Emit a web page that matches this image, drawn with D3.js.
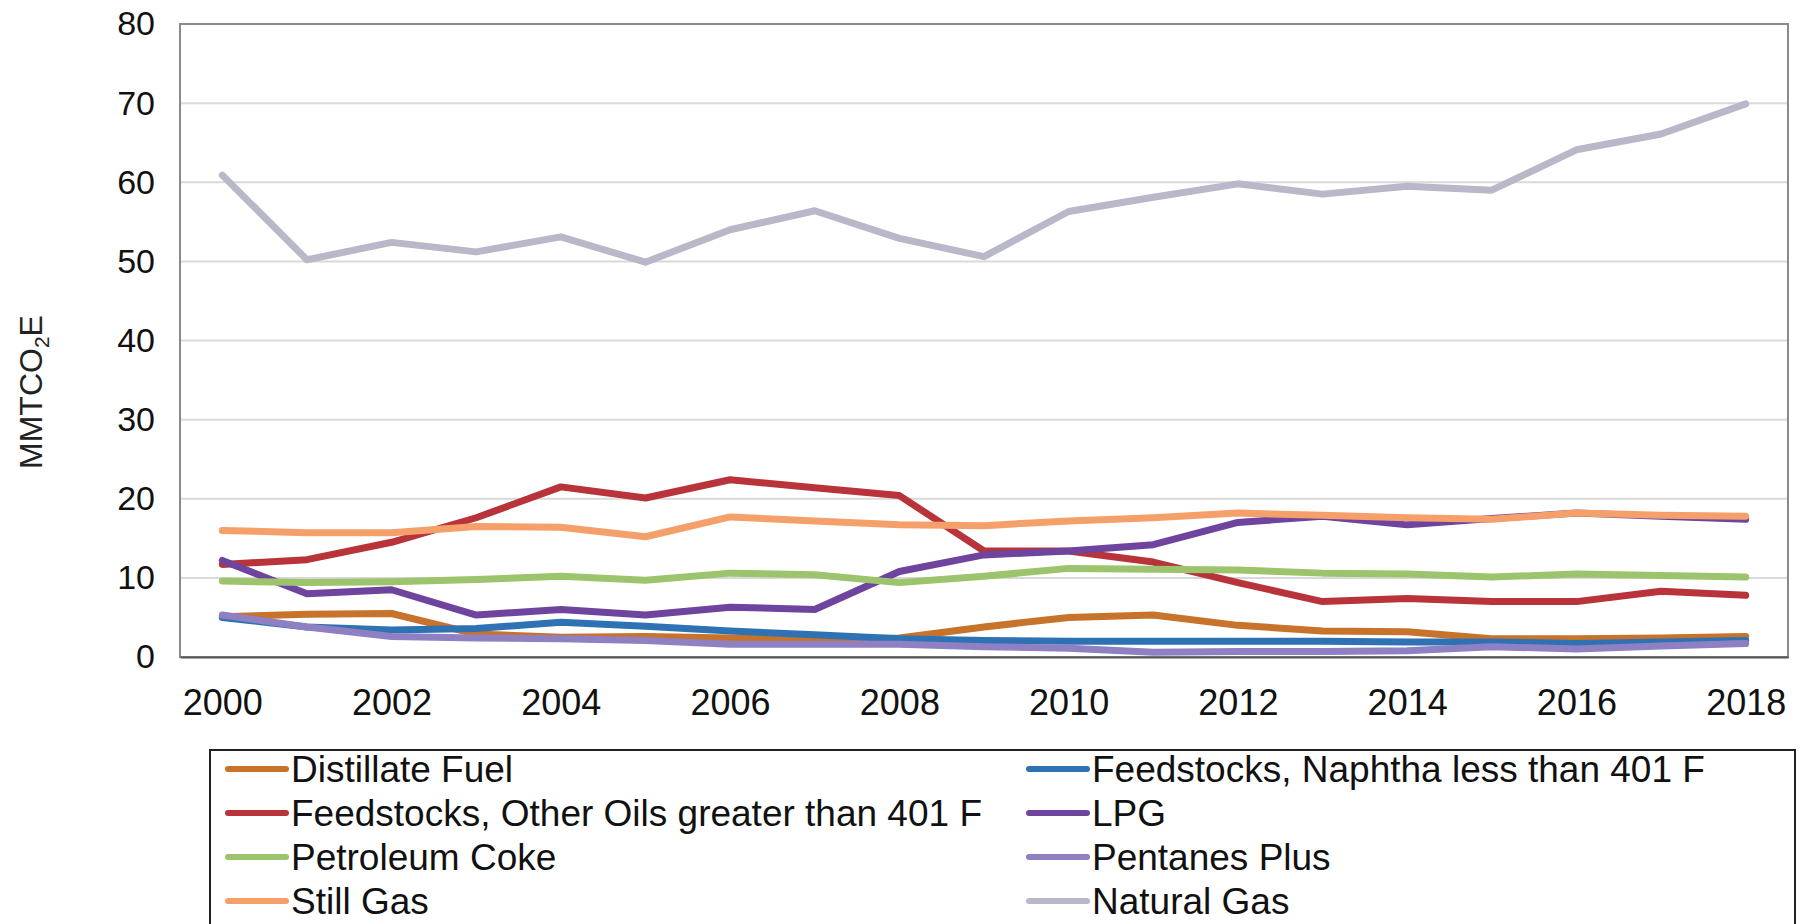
<!DOCTYPE html>
<html>
<head>
<meta charset="utf-8">
<script src="https://cdn.jsdelivr.net/npm/d3@7"></script>
<style>
  html, body { margin: 0; padding: 0; background: #fff; }
  svg { display: block; font-family: "Liberation Sans", Arial, sans-serif; }
</style>
</head>
<body>
<svg id="chart" width="1806" height="924"></svg>
<script>
const years = ["2000","2001","2002","2003","2004","2005","2006","2007","2008","2009","2010","2011","2012","2013","2014","2015","2016","2017","2018"];
const xTickLabels = ["2000","2002","2004","2006","2008","2010","2012","2014","2016","2018"];
const yTicks = [0,10,20,30,40,50,60,70,80];

const distillateFuel = [5.1,5.4,5.5,2.9,2.5,2.6,2.4,2.3,2.4,3.8,5.0,5.3,4.0,3.3,3.2,2.3,2.3,2.4,2.6];
const naphtha        = [5.0,3.8,3.4,3.6,4.4,3.9,3.3,2.8,2.3,2.1,2.0,2.0,2.0,2.0,1.9,1.9,1.7,1.9,2.1];
const otherOils      = [11.7,12.3,14.5,17.6,21.5,20.1,22.4,21.4,20.4,13.4,13.4,12.0,9.4,7.0,7.4,7.0,7.0,8.3,7.8];
const lpg            = [12.2,8.0,8.5,5.3,6.0,5.3,6.3,6.0,10.8,12.9,13.4,14.2,17.0,17.8,16.7,17.5,18.2,17.8,17.4];
const petroleumCoke  = [9.6,9.4,9.5,9.8,10.2,9.7,10.6,10.4,9.4,10.2,11.2,11.1,11.0,10.6,10.5,10.1,10.5,10.3,10.1];
const pentanesPlus   = [5.3,3.8,2.6,2.4,2.3,2.1,1.6,1.6,1.6,1.3,1.1,0.6,0.7,0.7,0.8,1.3,1.0,1.4,1.7];
const stillGas       = [16.0,15.7,15.7,16.5,16.4,15.2,17.7,17.2,16.7,16.6,17.2,17.6,18.2,17.9,17.6,17.4,18.2,17.9,17.8];
const naturalGas     = [60.9,50.2,52.4,51.2,53.1,49.9,54.0,56.4,52.9,50.6,56.3,58.1,59.8,58.5,59.5,59.0,64.1,66.1,69.9];

const seriesNames  = ["Distillate Fuel","Feedstocks, Naphtha less than 401 F","Feedstocks, Other Oils greater than 401 F","LPG","Petroleum Coke","Pentanes Plus","Still Gas","Natural Gas"];
const seriesValues = [distillateFuel, naphtha, otherOils, lpg, petroleumCoke, pentanesPlus, stillGas, naturalGas];
const seriesColors = ["#c8732c","#2f72b4","#b8343a","#6e449e","#9cc46c","#8e80c2","#f5a06a","#b8b8c9"];

const svg = d3.select("#chart");
const plot = {left: 180, right: 1788, top: 24, bottom: 657};

const x = d3.scalePoint().domain(years).range([plot.left, plot.right]).padding(0.5);
const y = d3.scaleLinear().domain([0, 80]).range([plot.bottom, plot.top]);

// gridlines
svg.append("g")
  .selectAll("line")
  .data(yTicks.filter(d => d > 0 && d < 80))
  .join("line")
  .attr("x1", plot.left).attr("x2", plot.right)
  .attr("y1", d => y(d)).attr("y2", d => y(d))
  .attr("stroke", "#d9d9d9").attr("stroke-width", 2);

// plot frame
svg.append("rect")
  .attr("x", plot.left).attr("y", plot.top)
  .attr("width", plot.right - plot.left).attr("height", plot.bottom - plot.top)
  .attr("fill", "none").attr("stroke", "#8a8a8a").attr("stroke-width", 2);

// y axis
const yAxis = d3.axisLeft(y).tickValues(yTicks).tickSize(0).tickPadding(25);
const gy = svg.append("g").attr("transform", `translate(${plot.left},0)`).call(yAxis);
gy.select(".domain").remove();
gy.selectAll("text").attr("font-size", 34).attr("fill", "#111").attr("font-family", "Liberation Sans, Arial, sans-serif");

// x axis
const xAxis = d3.axisBottom(x).tickValues(xTickLabels).tickSize(0).tickPadding(32);
const gx = svg.append("g").attr("transform", `translate(0,${plot.bottom})`).call(xAxis);
gx.select(".domain").attr("stroke", "#555").attr("stroke-width", 2);
gx.selectAll("text").attr("font-size", 36).attr("fill", "#111").attr("font-family", "Liberation Sans, Arial, sans-serif");

// y title
const yt = svg.append("text")
  .attr("transform", "translate(42,392) rotate(-90)")
  .attr("text-anchor", "middle")
  .attr("font-size", 32).attr("fill", "#222");
yt.append("tspan").text("MMTCO");
yt.append("tspan").text("2").attr("font-size", 21).attr("dy", 7);
yt.append("tspan").text("E").attr("dy", -7);

// lines
const line = d3.line().x((d, i) => x(years[i])).y(d => y(d));
svg.append("g")
  .selectAll("path")
  .data(seriesValues)
  .join("path")
  .attr("d", d => line(d))
  .attr("fill", "none")
  .attr("stroke", (d, i) => seriesColors[i])
  .attr("stroke-width", 7)
  .attr("stroke-linejoin", "round")
  .attr("stroke-linecap", "round");

// legend
const legend = svg.append("g");
legend.append("rect")
  .attr("x", 210).attr("y", 750).attr("width", 1585).attr("height", 190)
  .attr("fill", "#fff").attr("stroke", "#222").attr("stroke-width", 2);
const colX = [228, 1029];
const rowY = [769, 813, 857, 901];
const items = legend.selectAll("g.item")
  .data(seriesNames)
  .join("g")
  .attr("class", "item")
  .attr("transform", (d, i) => `translate(${colX[i % 2]},${rowY[Math.floor(i / 2)]})`);
items.append("line")
  .attr("x1", 0).attr("x2", 58).attr("y1", 0).attr("y2", 0)
  .attr("stroke", (d, i) => seriesColors[i]).attr("stroke-width", 6)
  .attr("stroke-linecap", "round");
items.append("text")
  .attr("x", 63).attr("y", 0).attr("dy", "0.35em")
  .attr("font-size", 37).attr("fill", "#111")
  .text(d => d);
</script>
</body>
</html>
